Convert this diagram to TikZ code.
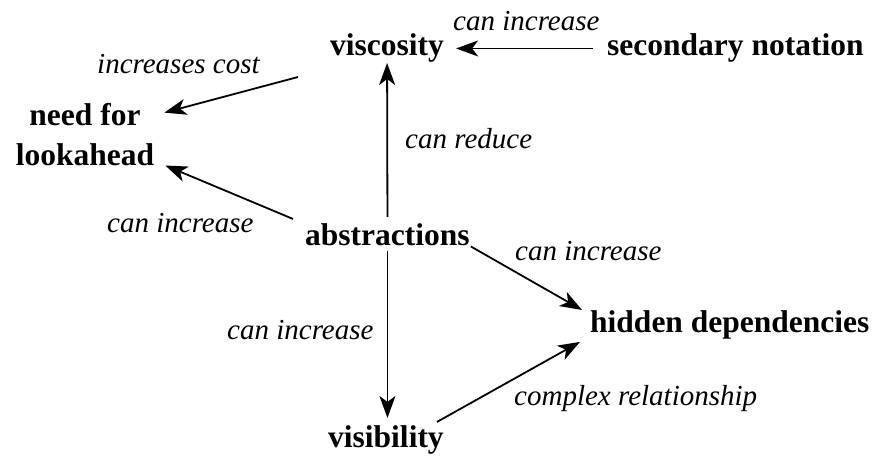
\documentclass[tikz,border=0pt]{standalone}
\usepackage{fontspec}
\setmainfont{Liberation Serif}
\usetikzlibrary{arrows.meta,calc}
\begin{document}
\begin{tikzpicture}[x=1pt,y=-1pt,
  concept/.style={font=\fontsize{31.5}{40}\selectfont\bfseries, inner sep=0pt},
  rel/.style={font=\fontsize{29}{34}\selectfont\itshape, inner sep=0pt, anchor=base west},
  link/.style={line width=1.8pt, -{Stealth[length=22pt,width=16pt,inset=6pt]}}]
\useasboundingbox (0,0) rectangle (885,459);
% concepts
\node[concept, anchor=base west] (visc) at (330,55) {viscosity};
\node[concept, anchor=base west] (sec) at (607,55) {secondary notation};
\node[concept, align=center, anchor=base] (need) at (85,165) {need for\\lookahead};
\node[concept, anchor=base west] (abs) at (305,245) {abstractions};
\node[concept, anchor=base west] (hid) at (590,332) {hidden dependencies};
\node[concept, anchor=base west] (vis) at (328,447) {visibility};
% relation labels
\node[rel] (l1) at (453,30) {can increase};
\node[rel] (l2) at (97,73) {increases cost};
\node[rel] (l3) at (405,148) {can reduce};
\node[rel] (l4) at (107,232) {can increase};
\node[rel] (l5) at (515,260) {can increase};
\node[rel] (l6) at (227,339) {can increase};
\node[rel] (l7) at (514,405) {complex relationship};
% connectors
\draw[link] ($(sec.west)+(-14,1)$) -- ($(visc.east)+(12,1)$);
\draw[link] ($(visc.south west)+(-32,15)$) -- ($(need.north east)+(10,10)$);
\draw[link] ($(abs.north west)+(-12,-4)$) -- ($(need.south east)+(11,0)$);
\draw[link] ($(abs.north)+(0,-6)$) -- ($(visc.south)+(0,1)$);
\draw[link] ($(abs.south)+(0,5)$) -- ($(abs.south |- vis.north)+(0,-7)$);
\draw[link] ($(abs.south east)+(1,1)$) -- ($(hid.north west)+(-8,0)$);
\draw[link] ($(vis.north east)+(-7,-3)$) -- ($(hid.south west)+(-10,3)$);
\end{tikzpicture}
\end{document}
